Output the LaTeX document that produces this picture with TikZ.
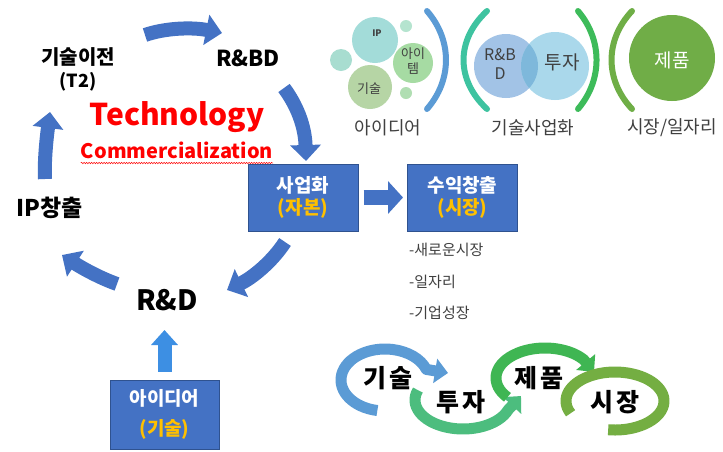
\documentclass[tikz,border=0pt]{standalone}
\usepackage{fontspec}
\setmainfont{Noto Sans CJK KR}
\usetikzlibrary{arrows.meta,decorations.pathmorphing}
\definecolor{cycblue}{HTML}{4472C4}
\definecolor{boxborder}{HTML}{2F528F}
\definecolor{gold}{HTML}{FFC000}
\definecolor{upblue}{HTML}{3D8FE3}
\definecolor{darktext}{HTML}{404040}
\definecolor{ipc}{HTML}{A3DCD9}
\definecolor{smallA}{HTML}{B5E4CF}
\definecolor{smallB}{HTML}{A8DDD0}
\definecolor{itemc}{HTML}{A6DBA3}
\definecolor{kisulc}{HTML}{B6D5A5}
\definecolor{smallC}{HTML}{B0DEB2}
\definecolor{rbdc}{HTML}{A2C3E6}
\definecolor{tujac}{HTML}{AAD8EB}
\definecolor{ovlc}{HTML}{7EB8DB}
\definecolor{arcblue}{HTML}{5B9BD5}
\definecolor{arcteal}{HTML}{3EC3A0}
\definecolor{arcgreen}{HTML}{3DBB5A}
\definecolor{arcolive}{HTML}{6FAE46}
\definecolor{jepum}{HTML}{70AD47}
\definecolor{loopa}{HTML}{5B9BD5}
\definecolor{loopb}{HTML}{4CBD7E}
\definecolor{loopc}{HTML}{3FB653}
\definecolor{loopd}{HTML}{74AE42}
\tikzset{
  cyc/.style={draw=cycblue, line width=14pt, -{Triangle[width=30pt,length=16pt]}},
  blockarr/.style={draw=cycblue, line width=15pt, -{Triangle[width=32pt,length=15pt]}},
  uparr/.style={draw=upblue, line width=14pt, -{Triangle[width=26pt,length=15pt]}},
  bluebox/.style={draw=boxborder, line width=1pt, fill=cycblue, minimum width=110pt,
    minimum height=67pt, inner sep=0pt, align=center, text=white,
    font=\bfseries\fontsize{19}{22}\selectfont},
  lbl/.style={inner sep=0pt, font=\bfseries\fontsize{20}{24}\selectfont},
  small/.style={inner sep=0pt, text=darktext, align=center},
  caplbl/.style={inner sep=0pt, text=darktext, font=\fontsize{18}{22}\selectfont},
  listlbl/.style={inner sep=0pt, anchor=west, text=darktext, font=\fontsize{15}{18}\selectfont},
  brk/.style={line width=6pt, line cap=round},
  loopline/.style={line width=11pt, line join=round, -{Triangle[width=24pt,length=13pt]}},
  loopring/.style={line width=11pt},
  looplbl/.style={inner sep=0pt, font=\bfseries\fontsize{25}{28}\selectfont},
}
\begin{document}
\begin{tikzpicture}[x=1pt,y=-1pt]
\useasboundingbox (0,0) rectangle (723,451);
\fill[white] (0,0) rectangle (723,451);

% ---------- left cycle ----------
\node[lbl] (t1a) at (78,57) {기술이전};
\node[lbl, font=\bfseries\fontsize{18}{22}\selectfont] (t1b) at (78,82) {(T2)};
\node[lbl, font=\bfseries\fontsize{22}{24}\selectfont] (rbd) at (248,58) {R\&BD};
\node[anchor=base, text=red, inner sep=0pt, font=\bfseries\fontsize{30}{34}\selectfont] (tech) at (177,125) {Technology};
\node[anchor=base, text=red, inner sep=0pt, font=\bfseries\fontsize{20}{24}\selectfont] (comm) at (177,158) {Commercialization};
\draw[red, line width=0.5pt, decorate, decoration={snake, amplitude=0.7pt, segment length=2.5pt}]
  ([yshift=-5pt]comm.base west) -- ([yshift=-5pt]comm.base east);
\node[lbl, font=\bfseries\fontsize{23}{24}\selectfont] (ip) at (50,208) {IP창출};
\node[lbl, font=\bfseries\fontsize{28}{30}\selectfont] (rd) at (167,300) {R\&D};

\coordinate (a1s) at (145,35);  \coordinate (a1e) at (222,33);
\coordinate (a2s) at (284,88);  \coordinate (a2e) at (306,161);
\coordinate (a3s) at (45,179);  \coordinate (a3e) at (50,112);
\coordinate (a4s) at (117,284); \coordinate (a4e) at (62,255);
\coordinate (a5s) at (285,242); \coordinate (a5e) at (227,290);
\draw[cyc] (a1s) .. controls (165,28) and (192,27) .. (a1e);
\draw[cyc] (a2s) .. controls (296,104) and (305,125) .. (a2e);
\draw[cyc] (a3s) .. controls (44,160) and (47,135) .. (a3e);
\draw[cyc] (a4s) .. controls (100,278) and (82,268) .. (a4e);
\draw[cyc] (a5s) .. controls (272,262) and (252,278) .. (a5e);

% ---------- boxes ----------
\node[bluebox] (biz) at (303,197.5) {사업화\\\textcolor{gold}{(자본)}};
\node[bluebox] (rev) at (462.5,197.5) {수익창출\\\textcolor{gold}{(시장)}};
\node[bluebox, minimum width=109pt, minimum height=69pt, font=\bfseries\fontsize{19}{30}\selectfont] (idea) at (164.5,414.5) {아이디어\\\textcolor{gold}{(기술)}};
\draw[blockarr, shorten <=5pt, shorten >=4pt] (biz.east) -- (rev.west);
\coordinate (uptip) at (164.5,330);
\draw[uparr, shorten <=8pt] (idea.north) -- (uptip);

\node[listlbl] (l1) at (409,250) {-새로운시장};
\node[listlbl] (l2) at (409,282) {-일자리};
\node[listlbl] (l3) at (409,313) {-기업성장};

% ---------- top right ----------
\fill[ipc] (375,40) circle (23);
\fill[smallA] (406,26) circle (6);
\fill[smallB] (341,60) circle (11);
\fill[itemc] (413,63) circle (20);
\fill[kisulc] (370,87) circle (22);
\fill[smallC] (406,93) circle (6);
\node[small, font=\bfseries\fontsize{9}{10}\selectfont] (iptxt) at (377,33) {IP};
\node[small, font=\fontsize{13}{15}\selectfont] (itemtxt) at (413,61) {아이\\템};
\node[small, font=\fontsize{13}{15}\selectfont] (kisultxt) at (369,89) {기술};
\draw[brk, arcblue] (427,11) .. controls (452.3,40) and (452.3,80) .. (427,109);

\draw[brk, arcteal] (487,11) .. controls (455.7,40) and (455.7,80) .. (487,109);
\fill[rbdc] (506,66) circle (32);
\fill[tujac] (555,66) circle (34);
\begin{scope}
  \clip (506,66) circle (32);
  \fill[ovlc] (555,66) circle (34);
\end{scope}
\node[small, font=\fontsize{16}{19}\selectfont] (rbdtxt) at (500,64) {R\&B\\D};
\node[small, font=\fontsize{19}{22}\selectfont] (tujatxt) at (562,62) {투자};
\draw[brk, arcgreen] (578,11) .. controls (602.7,40) and (602.7,80) .. (578,109);

\draw[brk, arcolive] (632,11) .. controls (604.7,40) and (604.7,80) .. (632,109);
\fill[jepum] (672,58) circle (43);
\node[small, text=white, font=\fontsize{19}{22}\selectfont] (jepumtxt) at (672,60) {제품};

\node[caplbl] (cap1) at (388,128) {아이디어};
\node[caplbl] (cap2) at (533,128) {기술사업화};
\node[caplbl] (cap3) at (672,128) {시장/일자리};

% ---------- bottom loops ----------
\coordinate (lc1) at (385,380); \coordinate (lt1) at (448,373);
\coordinate (lc2) at (463,400); \coordinate (lt2) at (521,396);
\coordinate (lc3) at (545,378); \coordinate (lt3) at (594,372);
\coordinate (lc4) at (615,401);
\draw[loopline, loopa] (lc1) ++(100:44 and 31) arc[start angle=100, end angle=340, x radius=44, y radius=31] -- (lt1);
\draw[loopline, loopb] (lc2) ++(200:48 and 29) arc[start angle=200, end angle=20, x radius=48, y radius=29] -- (lt2);
\draw[loopline, loopc] (lc3) ++(140:49 and 30) arc[start angle=140, end angle=322, x radius=49, y radius=30] -- (lt3);
\draw[loopring, loopd] (lc4) ++(155:49 and 29) arc[start angle=155, end angle=458, x radius=49, y radius=29];
\node[looplbl] (w1) at (388,378) {기\hspace{3pt}술};
\node[looplbl] (w2) at (461,402) {투\hspace{3pt}자};
\node[looplbl] (w3) at (539,378) {제\hspace{3pt}품};
\node[looplbl] (w4) at (615,402) {시\hspace{3pt}장};
\end{tikzpicture}
\end{document}
